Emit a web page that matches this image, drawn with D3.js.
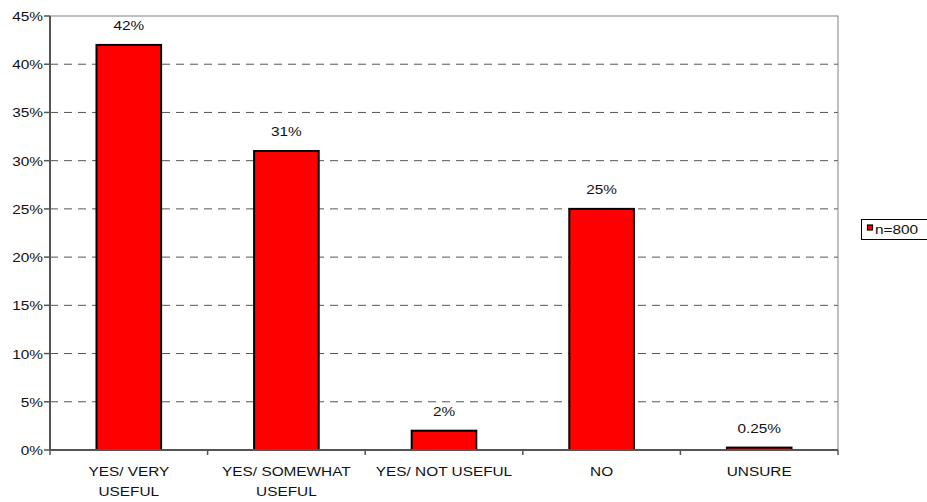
<!DOCTYPE html>
<html><head><meta charset="utf-8">
<script src="https://cdn.jsdelivr.net/npm/d3@7"></script>
<style>body{margin:0;background:#fff;}svg{display:block;font-family:"Liberation Sans",Arial,sans-serif;}</style>
</head><body><svg id="c" width="927" height="502"></svg>
<script>
const categories = [["YES/ VERY","USEFUL"],["YES/ SOMEWHAT","USEFUL"],["YES/ NOT USEFUL"],["NO"],["UNSURE"]];
const values = [42, 31, 2, 25, 0.25];
const valueLabels = ["42%","31%","2%","25%","0.25%"];
const yTicks = [0,5,10,15,20,25,30,35,40,45];
const seriesName = "n=800";

const svg = d3.select("#c");
const L=50, R=838, T=16, B=450;
const FS = 12.5, SX = 1.23;
const x = d3.scaleBand().domain(d3.range(categories.length)).range([L,R]).padding(0);
const y = d3.scaleLinear().domain([0,45]).range([B,T]);

function txt(g, tx, ty, s, anchor){
  return g.append("text").attr("transform",`translate(${tx},${ty}) scale(${SX},1)`)
    .attr("text-anchor",anchor).attr("font-size",FS).attr("fill","#111").text(s);
}

// gridlines
svg.append("g").selectAll("line").data(yTicks.filter(d=>d>0&&d<45)).join("line")
  .attr("x1",L).attr("x2",R).attr("y1",d=>y(d)).attr("y2",d=>y(d))
  .attr("stroke","#555").attr("stroke-width",1).attr("stroke-dasharray","8,6");

// plot border
svg.append("rect").attr("x",L).attr("y",T).attr("width",R-L).attr("height",B-T)
  .attr("fill","none").attr("stroke","#808080").attr("stroke-width",1);

// bars
const bw = x.bandwidth()*0.41;
svg.append("g").selectAll("rect").data(values).join("rect")
  .attr("x",(d,i)=>x(i)+x.bandwidth()/2-bw/2).attr("width",bw)
  .attr("y",d=>y(d)).attr("height",d=>B-y(d))
  .attr("fill","#ff0000").attr("stroke","#000").attr("stroke-width",2);

// axes
const ya = svg.append("g");
ya.append("line").attr("x1",L).attr("x2",L).attr("y1",T).attr("y2",B).attr("stroke","#555").attr("stroke-width",2);
yTicks.forEach(t=>{
  ya.append("line").attr("x1",L-6).attr("x2",L).attr("y1",y(t)).attr("y2",y(t)).attr("stroke","#555").attr("stroke-width",1.5);
  txt(ya, L-7, y(t)+5, t+"%", "end");
});
const xa = svg.append("g");
xa.append("line").attr("x1",L).attr("x2",R).attr("y1",B).attr("y2",B).attr("stroke","#555").attr("stroke-width",2);
d3.range(categories.length+1).forEach(i=>{
  const xx = L + i*x.step();
  xa.append("line").attr("x1",xx).attr("x2",xx).attr("y1",B).attr("y2",B+5).attr("stroke","#555").attr("stroke-width",1.5);
});
categories.forEach((c,i)=>{
  c.forEach((line,j)=>txt(xa, x(i)+x.bandwidth()/2, 476+j*20, line, "middle"));
});

// value labels
values.forEach((v,i)=>txt(svg, x(i)+x.bandwidth()/2, y(v)-15, valueLabels[i], "middle"));

// legend
const lg = svg.append("g");
lg.append("rect").attr("x",861.5).attr("y",219.5).attr("width",70).attr("height",20)
  .attr("fill","#fff").attr("stroke","#000").attr("stroke-width",1);
lg.append("rect").attr("x",867.5).attr("y",225).attr("width",5).attr("height",5)
  .attr("fill","#ff0000").attr("stroke","#000").attr("stroke-width",1.2);
txt(lg, 875, 234, seriesName, "start");
</script></body></html>
